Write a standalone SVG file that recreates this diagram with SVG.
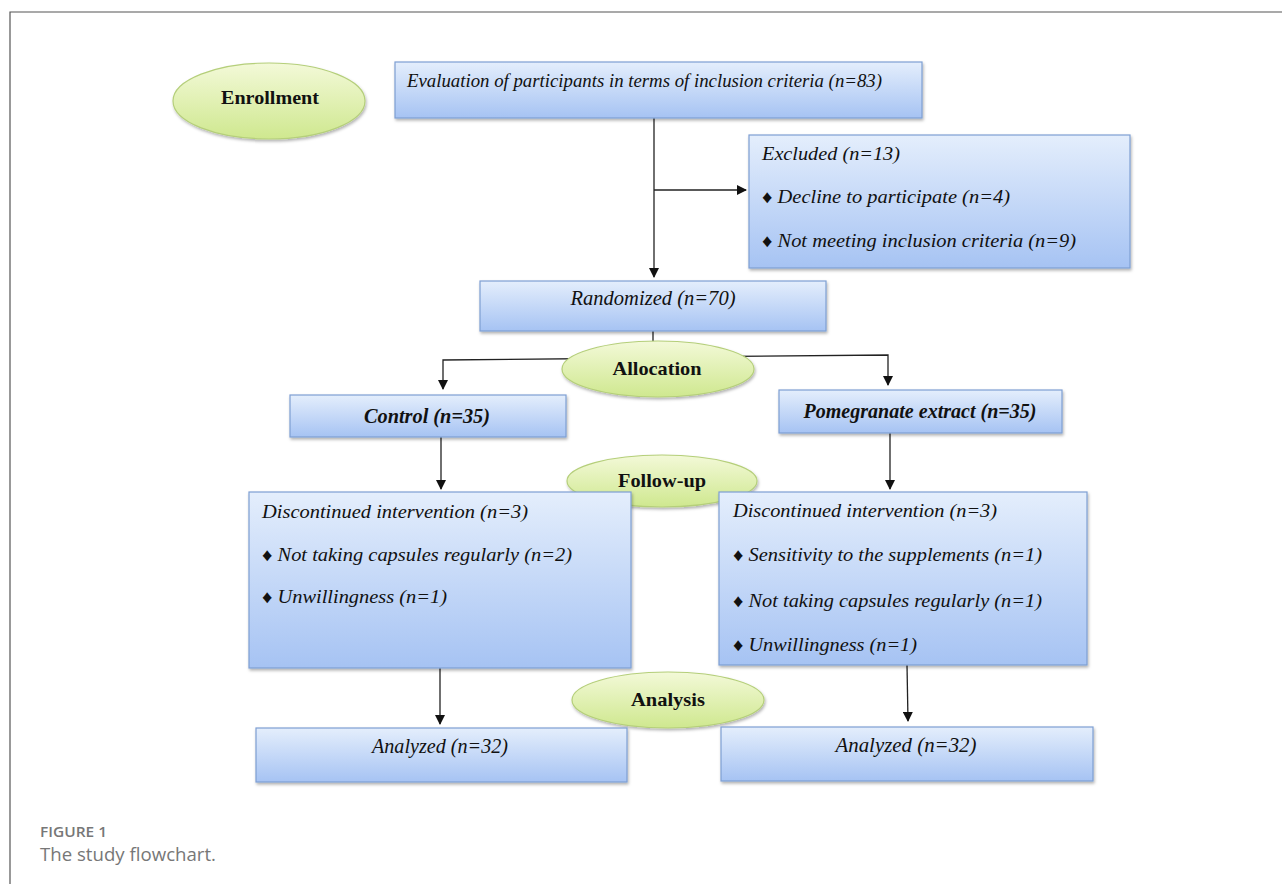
<svg xmlns="http://www.w3.org/2000/svg" width="1282" height="884" viewBox="0 0 1282 884">
<style>
.box{fill:url(#gb);stroke:#7e9fd2;stroke-width:1.2;filter:url(#sh)}
.ell{fill:url(#ge);stroke:#b5cf7a;stroke-width:1.2;filter:url(#sh)}
.t{font-family:"Liberation Serif","Times New Roman",serif;font-style:italic;font-size:18px;fill:#111}
.tc{font-family:"Liberation Serif","Times New Roman",serif;font-style:italic;font-size:21px;fill:#111}
.tb{font-family:"Liberation Serif","Times New Roman",serif;font-weight:bold;font-size:19px;fill:#111}
.ln{fill:none;stroke:#222;stroke-width:1.3}
.cap{font-family:"Open Sans","Liberation Sans",sans-serif;fill:#777}
</style>
<defs>
<linearGradient id="gb" x1="0" y1="0" x2="0" y2="1">
<stop offset="0" stop-color="#e4eefc"/>
<stop offset="1" stop-color="#a6c3f3"/>
</linearGradient>
<linearGradient id="ge" x1="0" y1="0" x2="0" y2="1">
<stop offset="0" stop-color="#f3f9d8"/>
<stop offset="1" stop-color="#cfe88f"/>
</linearGradient>
<filter id="sh" x="-10%" y="-10%" width="120%" height="130%">
<feDropShadow dx="1" dy="2" stdDeviation="1.5" flood-color="#000" flood-opacity="0.3"/>
</filter>
<marker id="ar" markerWidth="10" markerHeight="10" refX="9" refY="5" orient="auto" markerUnits="userSpaceOnUse">
<path d="M0,0 L10,5 L0,10 z" fill="#111"/>
</marker>
</defs>
<rect width="1282" height="884" fill="#fff"/>
<path d="M10,884 V12 H1282" fill="none" stroke="#555" stroke-width="1.2"/>

<g id="connectors">
<path class="ln" d="M654,118 V277" marker-end="url(#ar)"/>
<path class="ln" d="M654,190 H746" marker-end="url(#ar)"/>
<path class="ln" d="M653,331 V358"/>
<path class="ln" d="M653,358 L443,360 V389" marker-end="url(#ar)"/>
<path class="ln" d="M653,357 L888,355 V385" marker-end="url(#ar)"/>
<path class="ln" d="M441,437 V489" marker-end="url(#ar)"/>
<path class="ln" d="M890,433 V489" marker-end="url(#ar)"/>
<path class="ln" d="M440,668 V724" marker-end="url(#ar)"/>
<path class="ln" d="M907,665 L908,721" marker-end="url(#ar)"/>
</g>

<g id="enrollment">
<ellipse class="ell" cx="269" cy="101" rx="96" ry="38"/>
<text class="tb" x="270" y="104" text-anchor="middle" textLength="98" lengthAdjust="spacingAndGlyphs">Enrollment</text>
</g>

<g id="evaluation">
<rect class="box" x="395" y="62" width="527" height="56"/>
<text class="t" x="407" y="87" textLength="475" lengthAdjust="spacingAndGlyphs">Evaluation of participants in terms of inclusion criteria (n=83)</text>
</g>

<g id="excluded">
<rect class="box" x="749" y="135" width="381" height="133"/>
<text class="t" x="762" y="160" textLength="138" lengthAdjust="spacingAndGlyphs">Excluded (n=13)</text>
<text class="t" x="762" y="203" textLength="248" lengthAdjust="spacingAndGlyphs">♦ Decline to participate (n=4)</text>
<text class="t" x="762" y="247" textLength="314" lengthAdjust="spacingAndGlyphs">♦ Not meeting inclusion criteria (n=9)</text>
</g>

<g id="randomized">
<rect class="box" x="480" y="281" width="346" height="50"/>
<text class="tc" x="653" y="305" text-anchor="middle" textLength="165" lengthAdjust="spacingAndGlyphs">Randomized (n=70)</text>
</g>

<g id="allocation">
<ellipse class="ell" cx="658" cy="369" rx="96" ry="28"/>
<text class="tb" x="657" y="375" text-anchor="middle" textLength="89" lengthAdjust="spacingAndGlyphs">Allocation</text>
</g>

<g id="control">
<rect class="box" x="290" y="395" width="276" height="42"/>
<text class="tc" x="427" y="423" text-anchor="middle" font-weight="bold" textLength="126" lengthAdjust="spacingAndGlyphs">Control (n=35)</text>
</g>

<g id="pomegranate">
<rect class="box" x="779" y="390" width="283" height="43"/>
<text class="tc" x="920" y="418" text-anchor="middle" font-weight="bold" textLength="233" lengthAdjust="spacingAndGlyphs">Pomegranate extract (n=35)</text>
</g>

<g id="followup">
<ellipse class="ell" cx="662" cy="481" rx="95" ry="26"/>
<text class="tb" x="662" y="487" text-anchor="middle" textLength="88" lengthAdjust="spacingAndGlyphs">Follow-up</text>
</g>

<g id="disc-left">
<rect class="box" x="249" y="492" width="382" height="176"/>
<text class="t" x="262" y="518" textLength="266" lengthAdjust="spacingAndGlyphs">Discontinued intervention (n=3)</text>
<text class="t" x="262" y="561" textLength="310" lengthAdjust="spacingAndGlyphs">♦ Not taking capsules regularly (n=2)</text>
<text class="t" x="262" y="603" textLength="185" lengthAdjust="spacingAndGlyphs">♦ Unwillingness (n=1)</text>
</g>

<g id="disc-right">
<rect class="box" x="719" y="492" width="368" height="173"/>
<text class="t" x="733" y="517" textLength="264" lengthAdjust="spacingAndGlyphs">Discontinued intervention (n=3)</text>
<text class="t" x="733" y="561" textLength="309" lengthAdjust="spacingAndGlyphs">♦ Sensitivity to the supplements (n=1)</text>
<text class="t" x="733" y="607" textLength="309" lengthAdjust="spacingAndGlyphs">♦ Not taking capsules regularly (n=1)</text>
<text class="t" x="733" y="651" textLength="184" lengthAdjust="spacingAndGlyphs">♦ Unwillingness (n=1)</text>
</g>

<g id="analysis">
<ellipse class="ell" cx="668" cy="700" rx="96" ry="28"/>
<text class="tb" x="668" y="706" text-anchor="middle" textLength="74" lengthAdjust="spacingAndGlyphs">Analysis</text>
</g>

<g id="analyzed-left">
<rect class="box" x="256" y="728" width="371" height="54"/>
<text class="tc" x="440" y="753" text-anchor="middle" textLength="136" lengthAdjust="spacingAndGlyphs">Analyzed (n=32)</text>
</g>

<g id="analyzed-right">
<rect class="box" x="721" y="727" width="372" height="54"/>
<text class="tc" x="906" y="752" text-anchor="middle" textLength="141" lengthAdjust="spacingAndGlyphs">Analyzed (n=32)</text>
</g>

<g id="caption">
<text class="cap" x="40" y="837" font-size="14" font-weight="600" textLength="67" lengthAdjust="spacingAndGlyphs">FIGURE 1</text>
<text class="cap" x="40" y="861" font-size="18.5" textLength="176" lengthAdjust="spacingAndGlyphs">The study flowchart.</text>
</g>
</svg>
